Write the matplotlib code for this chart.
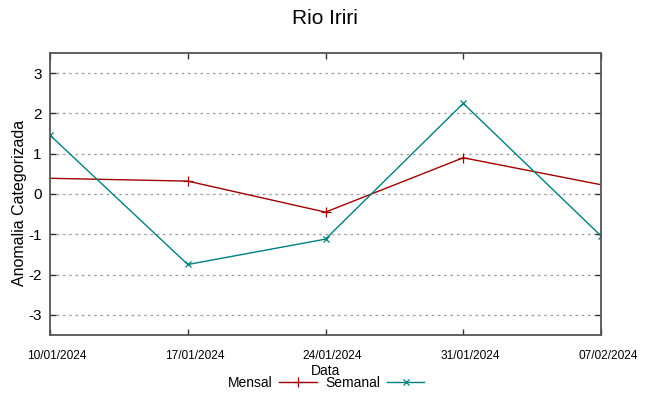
import pandas as pd
import matplotlib
matplotlib.use("Agg")
import matplotlib.pyplot as plt
from matplotlib.transforms import ScaledTranslation

plt.rcParams["font.family"] = ["Liberation Sans", "DejaVu Sans"]
plt.rcParams["axes.unicode_minus"] = False

datas = pd.to_datetime(["2024-01-10", "2024-01-17", "2024-01-24", "2024-01-31", "2024-02-07"])
mensal = [0.39, 0.32, -0.45, 0.90, 0.23]
semanal = [1.46, -1.75, -1.12, 2.25, -1.04]
rotulos = ["10/01/2024", "17/01/2024", "24/01/2024", "31/01/2024", "07/02/2024"]

fig = plt.figure(figsize=(6.49, 3.96), dpi=100)
ax = fig.add_axes([50 / 649, 1 - 335 / 396, 551 / 649, 282 / 396])

ax.plot(datas, mensal, color="#a00000", lw=1.0, marker="+", ms=6.5, mew=0.9,
        markevery=[1, 2, 3], label="Mensal")
ax.plot(datas, semanal, color="#008080", lw=1.0, marker="x", ms=5, mew=0.9,
        label="Semanal")

ax.set_xlim(datas[0], datas[-1])
ax.set_ylim(-3.5, 3.5)
ax.set_yticks([-3, -2, -1, 0, 1, 2, 3])
ax.set_xticks(datas)
ax.set_xticklabels(rotulos, fontsize=8.6)
ax.tick_params(axis="y", labelsize=11, pad=6)
ax.tick_params(direction="in", length=4, width=1, top=True, right=True, color="#333333")
ax.tick_params(axis="x", pad=11)

# desloca os rótulos de data um pouco para a direita, como no original
desloc = ScaledTranslation(7 / 100, 0, fig.dpi_scale_trans)
for lab in ax.get_xticklabels():
    lab.set_transform(lab.get_transform() + desloc)

ax.grid(axis="y", linestyle=(0, (2, 3)), color="#999999", lw=0.9)
for s in ax.spines.values():
    s.set_color("#555555")
    s.set_linewidth(1.3)

ax.set_ylabel("Anomalia Categorizada", fontsize=11.5)
ax.yaxis.set_label_coords(-0.042, 0.47)
ax.set_xlabel("Data", fontsize=10, labelpad=1)
fig.suptitle("Rio Iriri", fontsize=15, y=0.978)

fig.legend(loc="center", bbox_to_anchor=(326 / 649, 1 - 383 / 396), ncol=2,
           frameon=False, fontsize=10, markerfirst=False, handlelength=2.7,
           handletextpad=0.5, columnspacing=0.6, borderpad=0)

fig.savefig("out.png", dpi=100)
